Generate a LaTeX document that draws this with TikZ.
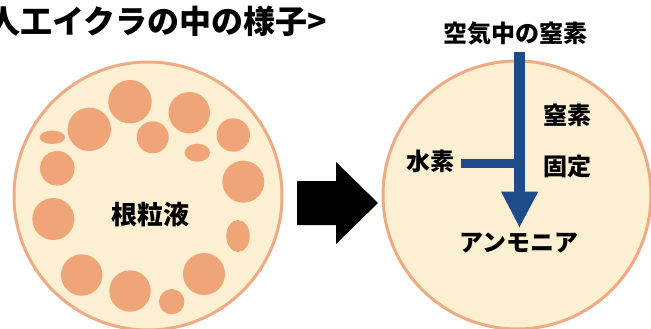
\documentclass[tikz,border=0pt]{standalone}
\usepackage{fontspec}
\newfontfamily\jp{Noto Sans CJK JP}
\definecolor{cream}{RGB}{253,240,210}
\definecolor{rim}{RGB}{238,170,130}
\definecolor{roe}{RGB}{240,165,120}
\definecolor{navy}{RGB}{30,75,138}
\tikzset{
  capsule/.style={draw=rim, line width=3pt, fill=cream},
  bead/.style={fill=roe},
  label/.style={font=\jp\bfseries\fontsize{24}{24}\selectfont, text=black, inner sep=0pt},
  flow/.style={fill=navy}
}
\begin{document}
\begin{tikzpicture}[x=1pt,y=-1pt]
\useasboundingbox (0,0) rectangle (651,329);
\clip (0,0) rectangle (651,329);

% heading, running off the left edge
\node[label, font=\jp\bfseries\fontsize{32}{32}\selectfont, anchor=west] (title) at (-12,21) {人工イクラの中の様子>};

% left capsule with root-nodule fluid
\draw[capsule] (148,196) circle (134);
\foreach \cx/\cy/\r in {130/101.7/21.7, 189.3/112.7/20.7, 89.3/129.3/21.7, 152.7/137.3/16,
  233.3/135/16.7, 57.3/168.3/17.3, 243.3/181.7/21, 53.3/219/21, 81.7/275/20.7,
  204/274/21, 130/291/20.7, 171.7/301.7/12.7}
  \fill[bead] (\cx,\cy) circle (\r);
\fill[bead] (52.3,137.3) ellipse (12.7 and 6.7);
\fill[bead] (197.3,152.7) ellipse (12.7 and 9);
\fill[bead] (238,236) ellipse (11.7 and 16);
\node[label, font=\jp\bfseries\fontsize{26}{26}\selectfont] (fluid) at (150,215) {根粒液};

% block arrow between the capsules
\fill[black] (297,181) -- (336,181) -- (336,162) -- (378,203) -- (336,244) -- (336,225) -- (297,225) -- cycle;

% right capsule: nitrogen fixation
\draw[capsule] (517,195) circle (134);
\node[label] (air) at (515,34) {空気中の窒素};
\node[label] (n2) at (567.5,115) {窒素};
\node[label] (fix) at (567.5,166) {固定};
\node[label] (h2) at (430,161) {水素};
\node[label] (nh3) at (518.7,243) {アンモニア};
\coordinate (tip) at (519.5,227);
\fill[flow] (514,51.7) rectangle (525,192);
\fill[flow] (460.7,159) rectangle (514,168.3);
\fill[flow] (501,191.5) -- (538.3,191.5) -- (tip) -- cycle;
\end{tikzpicture}
\end{document}
